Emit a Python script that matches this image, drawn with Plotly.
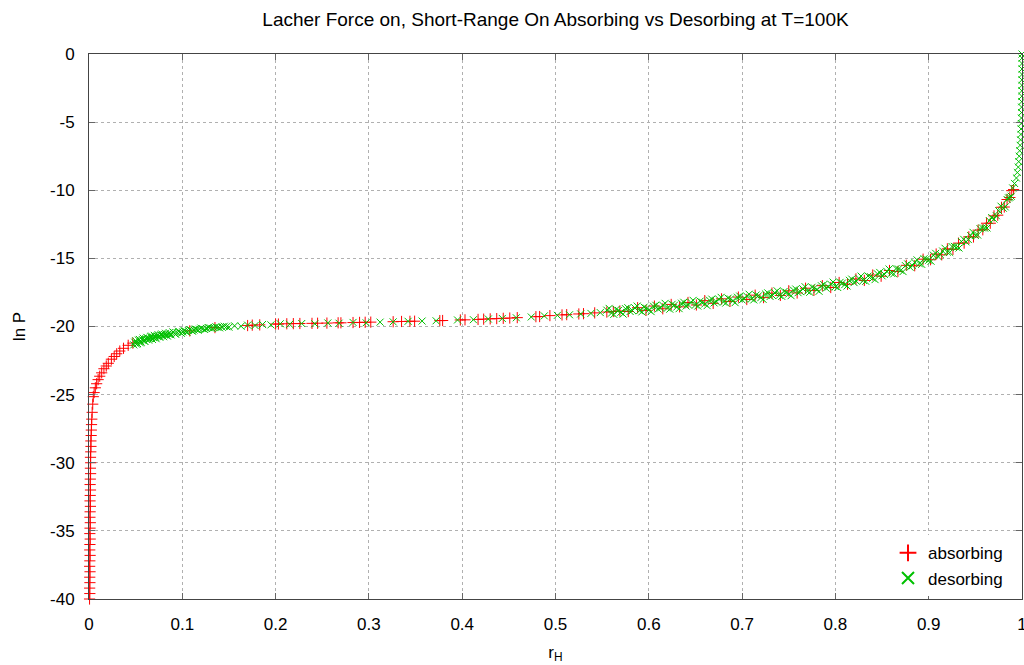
import plotly.graph_objects as go

# ---------------- data ----------------
# absorbing: steep part near r_H = 0
abs_x_vert = [0.0006, 0.0009, 0.0007, 0.0010, 0.0008, 0.0011, 0.0007, 0.0009, 0.0012, 0.0008,
              0.0010, 0.0013, 0.0009, 0.0011, 0.0014, 0.0010, 0.0012, 0.0015, 0.0011, 0.0013,
              0.0016, 0.0012, 0.0014, 0.0017, 0.0015, 0.0018, 0.0016, 0.0019, 0.0021, 0.0020,
              0.0023, 0.0025, 0.0027]
abs_y_vert = [-40.0, -39.6, -39.2, -38.8, -38.4, -38.0, -37.6, -37.2, -36.8, -36.4,
              -36.0, -35.6, -35.2, -34.8, -34.4, -34.0, -33.6, -33.2, -32.8, -32.4,
              -32.0, -31.6, -31.2, -30.8, -30.4, -30.0, -29.6, -29.2, -28.8, -28.4,
              -28.0, -27.6, -27.2]
abs_x_knee = [0.0030, 0.0034, 0.0040, 0.0046, 0.0055, 0.0068, 0.0082, 0.0098, 0.0115, 0.0136,
              0.0160, 0.0185, 0.0207, 0.0240, 0.0270, 0.0297, 0.0330, 0.0370, 0.0420, 0.0470]
abs_y_knee = [-26.8, -26.3, -25.7, -25.15, -24.85, -24.5, -24.2, -23.9, -23.65, -23.4,
              -23.1, -22.9, -22.7, -22.4, -22.2, -22.0, -21.8, -21.6, -21.38, -21.22]
abs_x_plateau = [0.108, 0.135, 0.170, 0.175, 0.183, 0.200, 0.203, 0.212, 0.219, 0.226,
                 0.239, 0.245, 0.255, 0.267, 0.270, 0.283, 0.290, 0.296, 0.302, 0.326,
                 0.335, 0.344, 0.349, 0.376, 0.379, 0.398, 0.403, 0.417, 0.423, 0.430,
                 0.437, 0.444, 0.451, 0.459, 0.479, 0.483, 0.494, 0.507, 0.512, 0.525,
                 0.530, 0.542, 0.555, 0.562, 0.569]
abs_y_plateau = [-20.32, -20.08, -19.93, -19.90, -19.88, -19.82, -19.82, -19.80, -19.79, -19.78,
                 -19.77, -19.76, -19.75, -19.73, -19.73, -19.71, -19.70, -19.69, -19.68, -19.65,
                 -19.63, -19.62, -19.61, -19.57, -19.56, -19.52, -19.51, -19.48, -19.46, -19.44,
                 -19.42, -19.40, -19.38, -19.35, -19.28, -19.27, -19.20, -19.15, -19.13, -19.08,
                 -19.06, -19.00, -18.94, -18.90, -18.86]
abs_x_rise = [0.578, 0.588, 0.597, 0.606, 0.615, 0.624, 0.633, 0.642, 0.651, 0.660,
              0.669, 0.678, 0.687, 0.696, 0.705, 0.714, 0.723, 0.732, 0.741, 0.750,
              0.759, 0.768, 0.777, 0.786, 0.795, 0.804, 0.813, 0.822, 0.831, 0.840,
              0.849, 0.858, 0.867, 0.876, 0.885, 0.894, 0.902, 0.908, 0.914, 0.920,
              0.926, 0.932, 0.938, 0.943, 0.948, 0.953, 0.958, 0.962, 0.966, 0.970,
              0.974, 0.978, 0.981, 0.984, 0.987, 0.989, 0.991]
abs_y_rise = [-18.90, -18.62, -18.82, -18.50, -18.70, -18.38, -18.56, -18.24, -18.42, -18.10,
              -18.30, -17.97, -18.16, -17.84, -18.02, -17.70, -17.88, -17.55, -17.72, -17.38,
              -17.54, -17.19, -17.35, -17.00, -17.14, -16.77, -16.90, -16.51, -16.62, -16.22,
              -16.31, -15.89, -15.96, -15.51, -15.54, -15.06, -15.10, -14.68, -14.74, -14.30,
              -14.34, -13.88, -13.88, -13.42, -13.43, -12.93, -12.90, -12.42, -12.42, -11.88,
              -11.83, -11.25, -11.23, -10.68, -10.53, -10.03, -9.95]

# desorbing
des_x_start = [0.048, 0.050, 0.052, 0.054, 0.056, 0.058, 0.060, 0.062, 0.064, 0.066,
               0.068, 0.070, 0.072, 0.074, 0.076, 0.078, 0.080, 0.082, 0.084, 0.086,
               0.088, 0.090, 0.093, 0.096, 0.099, 0.102, 0.105, 0.108, 0.111, 0.114,
               0.117, 0.120, 0.124, 0.128, 0.132, 0.136, 0.140, 0.145, 0.150]
des_y_start = [-21.35, -21.05, -21.25, -20.95, -21.15, -20.85, -21.10, -20.80, -21.00, -20.75,
               -20.95, -20.65, -20.90, -20.60, -20.80, -20.55, -20.75, -20.50, -20.70, -20.45,
               -20.62, -20.40, -20.58, -20.35, -20.50, -20.30, -20.42, -20.22, -20.35, -20.18,
               -20.28, -20.12, -20.22, -20.08, -20.15, -20.02, -20.10, -19.98, -20.05]
des_x_start_b = [0.049, 0.051, 0.053, 0.055, 0.057, 0.059, 0.061, 0.063, 0.065, 0.067,
                 0.069, 0.071, 0.073, 0.075, 0.077, 0.079, 0.081, 0.083, 0.085, 0.087,
                 0.0915, 0.0945, 0.0975, 0.1005, 0.1035, 0.1065, 0.1095, 0.1125, 0.1155, 0.1185,
                 0.122, 0.126, 0.130, 0.134, 0.138, 0.1425, 0.1475]
des_y_start_b = [-21.15, -21.30, -21.00, -21.20, -20.95, -21.05, -20.90, -20.85, -20.88, -20.70,
                 -20.82, -20.78, -20.70, -20.72, -20.62, -20.68, -20.60, -20.62, -20.55, -20.58,
                 -20.50, -20.45, -20.42, -20.40, -20.36, -20.30, -20.28, -20.26, -20.22, -20.20,
                 -20.16, -20.14, -20.10, -20.08, -20.06, -20.04, -20.01]
des_x_plateau = [0.156, 0.163, 0.170, 0.178, 0.186, 0.195, 0.205, 0.215, 0.228, 0.242,
                 0.256, 0.268, 0.283, 0.297, 0.312, 0.326, 0.342, 0.357, 0.372, 0.395,
                 0.412, 0.428, 0.443, 0.458, 0.474, 0.488, 0.502, 0.515, 0.527, 0.538,
                 0.548]
des_y_plateau = [-19.95, -19.98, -19.90, -19.93, -19.85, -19.88, -19.80, -19.84, -19.78, -19.80,
                 -19.74, -19.76, -19.70, -19.73, -19.68, -19.66, -19.62, -19.60, -19.58, -19.52,
                 -19.50, -19.45, -19.41, -19.36, -19.30, -19.22, -19.18, -19.14, -19.08, -19.04,
                 -18.98]
des_x_rise = [0.555, 0.560, 0.565, 0.570, 0.575, 0.580, 0.585, 0.590, 0.595, 0.600,
              0.605, 0.610, 0.615, 0.620, 0.625, 0.630, 0.635, 0.640, 0.645, 0.650,
              0.655, 0.660, 0.665, 0.670, 0.675, 0.680, 0.685, 0.690, 0.695, 0.700,
              0.705, 0.710, 0.715, 0.720, 0.725, 0.730, 0.735, 0.740, 0.745, 0.750,
              0.755, 0.760, 0.765, 0.770, 0.775, 0.780, 0.785, 0.790, 0.795, 0.800,
              0.805, 0.810, 0.815, 0.820, 0.825, 0.830, 0.835, 0.840, 0.845, 0.850,
              0.855, 0.860, 0.865, 0.870, 0.875, 0.880, 0.885, 0.890, 0.895, 0.900,
              0.905, 0.910, 0.915, 0.920, 0.925, 0.930, 0.935, 0.940, 0.945, 0.950,
              0.955, 0.960, 0.965, 0.970, 0.975, 0.980, 0.984, 0.987, 0.990]
des_y_rise = [-18.80, -19.02, -18.75, -18.96, -18.69, -18.90, -18.63, -18.84, -18.58, -18.79,
              -18.51, -18.72, -18.44, -18.64, -18.37, -18.57, -18.29, -18.50, -18.22, -18.42,
              -18.14, -18.35, -18.07, -18.27, -17.99, -18.20, -17.92, -18.12, -17.85, -18.05,
              -17.77, -17.97, -17.69, -17.89, -17.61, -17.80, -17.52, -17.71, -17.43, -17.62,
              -17.33, -17.52, -17.23, -17.41, -17.12, -17.30, -17.01, -17.19, -16.89, -17.07,
              -16.76, -16.93, -16.61, -16.78, -16.46, -16.62, -16.30, -16.46, -16.13, -16.28,
              -15.95, -16.09, -15.75, -15.88, -15.53, -15.65, -15.29, -15.40, -15.03, -15.14,
              -14.76, -14.86, -14.46, -14.54, -14.13, -14.19, -13.76, -13.79, -13.33, -13.32,
              -12.82, -12.78, -12.23, -12.12, -11.50, -11.32, -10.68, -10.52, -9.83]
des_x_rise_b = [0.5575, 0.5625, 0.5675, 0.5725, 0.5775, 0.5825, 0.5875, 0.5925, 0.5975, 0.6025,
                0.6075, 0.6125, 0.6175, 0.6225, 0.6275, 0.6325, 0.6375, 0.6425, 0.6475, 0.6525,
                0.6575, 0.6625, 0.6675, 0.6725, 0.6775, 0.6825, 0.6875, 0.6925, 0.6975, 0.7025,
                0.7075, 0.7125, 0.7175, 0.7225, 0.7275, 0.7325, 0.7375, 0.7425, 0.7475, 0.7525,
                0.7575, 0.7625, 0.7675, 0.7725, 0.7775, 0.7825, 0.7875, 0.7925, 0.7975, 0.8025,
                0.8075, 0.8125, 0.8175, 0.8225, 0.8275, 0.8325, 0.8375, 0.8425, 0.8475, 0.8525,
                0.8575, 0.8625, 0.8675, 0.8725, 0.8775, 0.8825, 0.8875, 0.8925, 0.8975, 0.9025,
                0.9075, 0.9125, 0.9175, 0.9225, 0.9275, 0.9325, 0.9375, 0.9425, 0.9475, 0.9525,
                0.9575, 0.9625, 0.9675, 0.9725, 0.9775, 0.9820, 0.9855, 0.9885]
des_y_rise_b = [-18.67, -19.11, -18.82, -19.09, -18.62, -18.83, -18.50, -18.93, -18.65, -18.91,
                -18.44, -18.64, -18.30, -18.73, -18.43, -18.69, -18.22, -18.42, -18.08, -18.50,
                -18.21, -18.47, -17.99, -18.19, -17.86, -18.28, -17.98, -18.25, -17.77, -17.97,
                -17.63, -18.05, -17.75, -18.01, -17.53, -17.72, -17.38, -17.79, -17.49, -17.74,
                -17.25, -17.44, -17.08, -17.49, -17.17, -17.42, -16.92, -17.10, -16.74, -17.14,
                -16.81, -17.03, -16.52, -16.68, -16.30, -16.68, -16.34, -16.56, -16.03, -16.18,
                -15.78, -16.14, -15.78, -15.97, -15.41, -15.53, -15.11, -15.44, -15.05, -15.21,
                -14.63, -14.72, -14.26, -14.56, -14.12, -14.24, -13.60, -13.62, -13.09, -13.29,
                -12.76, -12.77, -12.00, -11.87, -11.17, -11.22, -10.56, -10.44]
des_x_wall = [0.992, 0.994, 0.995, 0.996, 0.9965, 0.997, 0.9975, 0.998, 0.9985, 0.9988,
              0.999, 0.9992, 0.9994, 0.9995, 0.9996, 0.9997, 0.9998, 0.9998, 0.9999, 0.9999,
              1.0, 1.0, 1.0, 1.0, 1.0]
des_y_wall = [-9.50, -9.10, -8.70, -8.30, -7.90, -7.50, -7.10, -6.70, -6.30, -5.90,
              -5.50, -5.10, -4.70, -4.30, -3.90, -3.50, -3.10, -2.70, -2.30, -1.90,
              -1.50, -1.10, -0.70, -0.30, 0.0]

absorbing_x = abs_x_vert + abs_x_knee + abs_x_plateau + abs_x_rise
absorbing_y = abs_y_vert + abs_y_knee + abs_y_plateau + abs_y_rise
desorbing_x = des_x_start + des_x_start_b + des_x_plateau + des_x_rise + des_x_rise_b + des_x_wall
desorbing_y = des_y_start + des_y_start_b + des_y_plateau + des_y_rise + des_y_rise_b + des_y_wall

x_ticks = [0, 0.1, 0.2, 0.3, 0.4, 0.5, 0.6, 0.7, 0.8, 0.9, 1]
x_tick_text = ["0", "0.1", "0.2", "0.3", "0.4", "0.5", "0.6", "0.7", "0.8", "0.9", "1"]
y_ticks = [-40, -35, -30, -25, -20, -15, -10, -5, 0]
y_tick_text = ["-40", "-35", "-30", "-25", "-20", "-15", "-10", "-5", "0"]

# ---------------- figure ----------------
FONT = "Liberation Sans, Arial, Helvetica, sans-serif"

fig = go.Figure()
fig.add_trace(go.Scatter(
    x=absorbing_x, y=absorbing_y, mode="markers", name="absorbing",
    marker=dict(symbol="cross-thin", size=8, color="#ff0000",
                line=dict(color="#ff0000", width=1)),
    cliponaxis=False,
))
fig.add_trace(go.Scatter(
    x=desorbing_x, y=desorbing_y, mode="markers", name="desorbing",
    marker=dict(symbol="x-thin", size=7, color="#00c000",
                line=dict(color="#00c000", width=1)),
    cliponaxis=False,
))

axis_common = dict(
    showline=True, linecolor="#444444", linewidth=1, mirror="ticks",
    ticks="inside", ticklen=6, tickcolor="#666666", tickwidth=1,
    showgrid=True, gridcolor="#b0b0b0", griddash="dot", gridwidth=1,
    zeroline=False, automargin=False,
    tickfont=dict(family=FONT, size=17, color="#000000"),
    ticklabeloverflow="allow",
)

fig.update_xaxes(
    range=[0, 1], tickvals=x_ticks, ticktext=x_tick_text,
    title=dict(text="r<sub>H</sub>", font=dict(family=FONT, size=17, color="#000000"), standoff=12),
    ticklabelstandoff=10,
    **axis_common,
)
fig.update_yaxes(
    range=[-40, 0], tickvals=y_ticks, ticktext=y_tick_text,
    title=dict(text="ln P", font=dict(family=FONT, size=17, color="#000000"), standoff=20),
    ticklabelstandoff=10,
    **axis_common,
)

fig.update_layout(
    width=1024, height=665,
    margin=dict(l=89, r=2, t=54, b=66, autoexpand=False),
    paper_bgcolor="white", plot_bgcolor="white",
    title=dict(text="Lacher Force on, Short-Range On Absorbing vs Desorbing at T=100K",
               x=(89 + 1022) / 2 / 1024, xanchor="center",
               y=1 - 19 / 665, yanchor="middle", yref="container",
               font=dict(family=FONT, size=19, color="#000000")),
    legend=dict(x=0.985, y=0.005, xanchor="right", yanchor="bottom",
                bgcolor="white", borderwidth=0,
                font=dict(family=FONT, size=17, color="#000000"),
                itemsizing="constant", tracegroupgap=0),
    showlegend=True,
)

fig.write_html("out.html")
